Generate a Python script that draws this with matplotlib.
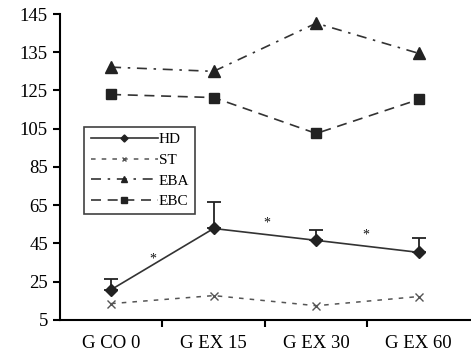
import numpy as np
import matplotlib
matplotlib.use('Agg')
import matplotlib.pyplot as plt


groups = ['G CO 0', 'G EX 15', 'G EX 30', 'G EX 60']
hd = [20.8, 52.8, 46.6, 40.3]
hd_err = [5.8, 13.7, 5.2, 7.3]
st = [13.5, 17.7, 12.4, 17.2]
eba = [131.1, 130.0, 142.6, 134.7]
ebc = [122.9, 121.3, 102.5, 120.3]
ytick_vals = [5, 25, 45, 65, 85, 105, 125, 135, 145]
star_x = [0.41, 1.52, 2.48]
star_y = [37.0, 55.5, 49.5]

plt.rcParams['font.family'] = ['Liberation Serif', 'DejaVu Serif']


def fwd(v):
    v = np.asarray(v, dtype=float)
    return np.where(v <= 125, (v - 5) / 20.0, 6 + (v - 125) / 10.0)


def inv(t):
    t = np.asarray(t, dtype=float)
    return np.where(t <= 6, 5 + t * 20.0, 125 + (t - 6) * 10.0)


fig = plt.figure(figsize=(4.71, 3.59), dpi=100)
ax = fig.add_axes([0.127, 0.109, 0.871, 0.852])
ax.set_yscale('function', functions=(fwd, inv))

x = np.arange(len(groups))
col = '#333333'

ax.errorbar(x, hd, yerr=[np.zeros(len(hd)), hd_err], fmt='none',
            ecolor='#222222', elinewidth=1.3, capsize=5, capthick=1.3)
ax.plot(x, hd, '-', color=col, lw=1.2, marker='D', ms=6, mfc='#222222',
        mec='#222222', label='HD')
ax.plot(x, st, color='#555555', lw=1.1, ls=(0, (3, 4)), marker='x', ms=6,
        mec='#555555', label='ST')
ax.plot(x, eba, color=col, lw=1.2, ls=(0, (6, 4, 1.5, 4)), marker='^',
        ms=8, mfc='#222222', mec='#222222', label='EBA')
ax.plot(x, ebc, color=col, lw=1.2, ls=(0, (6, 4)), marker='s', ms=7,
        mfc='#222222', mec='#222222', label='EBC')

for sx, sy in zip(star_x, star_y):
    ax.text(sx, sy, '*', fontsize=10, ha='center', va='center', color='#111111')

ax.set_xlim(-0.5, 3.5)
ax.set_ylim(5, 145)
ax.set_yticks(ytick_vals)
ax.set_yticklabels([str(v) for v in ytick_vals])
ax.set_xticks([0.5, 1.5, 2.5])
ax.set_xticklabels([])
ax.set_xticks(x, minor=True)
ax.set_xticklabels(groups, minor=True)
ax.tick_params(axis='x', which='minor', length=0, pad=11, labelsize=13.5)
ax.tick_params(axis='x', which='major', length=5, width=1.5, direction='out')
ax.tick_params(axis='y', length=5, width=1.5, direction='out', labelsize=13.5)

for side in ['top', 'right']:
    ax.spines[side].set_visible(False)
for side in ['left', 'bottom']:
    ax.spines[side].set_linewidth(1.5)

leg = ax.legend(loc='upper left', bbox_to_anchor=(0.06, 0.632), fontsize=11,
                handlelength=4.4, frameon=True, fancybox=False,
                edgecolor='#111111', borderpad=0.4, labelspacing=0.45,
                handletextpad=0.05, markerscale=0.6, borderaxespad=0)
leg.get_frame().set_linewidth(1.2)

plt.savefig('out.png', dpi=100)
